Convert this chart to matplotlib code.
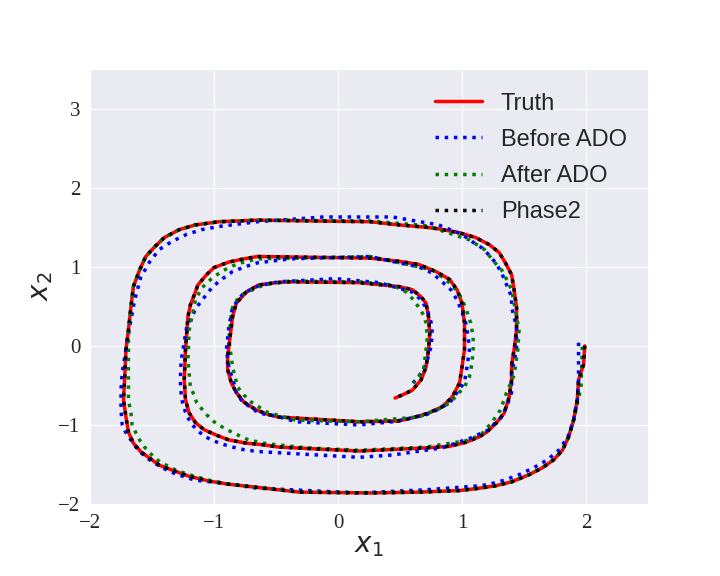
import matplotlib
matplotlib.use('Agg')
import matplotlib.pyplot as plt
import seaborn as sns

# Truth trajectory; Phase2 sits on top of it
truth_x = [1.99, 1.98, 1.94, 1.93, 1.90, 1.86, 1.81, 1.74, 1.65, 1.54, 1.40, 1.27, 1.14, 0.98, 0.65, 0.26,
           -0.31, -0.65, -0.88, -1.04, -1.20, -1.34, -1.44, -1.52, -1.59, -1.65, -1.69, -1.71, -1.73, -1.72,
           -1.71, -1.69, -1.67, -1.65, -1.60, -1.55, -1.48, -1.40, -1.28, -1.15, -0.96, -0.65, 0.26, 0.49,
           0.71, 0.81, 0.98, 1.11, 1.22, 1.30, 1.35, 1.40, 1.42, 1.44, 1.44, 1.42, 1.40, 1.40, 1.38, 1.34,
           1.28, 1.20, 1.14, 1.03, 0.90, 0.71, 0.17, -0.48, -0.61, -0.74, -0.88, -0.98, -1.08, -1.15, -1.20,
           -1.23, -1.24, -1.23, -1.21, -1.19, -1.16, -1.13, -1.06, -1.00, -0.88, -0.76, -0.65, 0.26, 0.49,
           0.65, 0.79, 0.90, 0.96, 1.00, 1.02, 1.02, 1.00, 0.98, 0.92, 0.84, 0.73, 0.60, 0.49, 0.17, -0.48,
           -0.56, -0.66, -0.76, -0.82, -0.86, -0.89, -0.89, -0.87, -0.85, -0.82, -0.74, -0.64, -0.50, -0.39,
           0.17, 0.49, 0.60, 0.67, 0.71, 0.73, 0.74, 0.73, 0.71, 0.67, 0.60, 0.52, 0.46]
truth_y = [0.00, -0.24, -0.43, -0.68, -0.94, -1.15, -1.32, -1.44, -1.54, -1.63, -1.72, -1.77, -1.80, -1.83,
           -1.85, -1.86, -1.85, -1.79, -1.75, -1.71, -1.65, -1.57, -1.51, -1.42, -1.34, -1.23, -1.09, -0.90,
           -0.68, -0.40, -0.05, 0.20, 0.49, 0.75, 0.96, 1.13, 1.25, 1.37, 1.47, 1.53, 1.57, 1.59, 1.57, 1.53,
           1.50, 1.48, 1.43, 1.37, 1.28, 1.18, 1.05, 0.90, 0.71, 0.49, 0.20, -0.05, -0.24, -0.43, -0.65,
           -0.85, -0.97, -1.09, -1.15, -1.22, -1.27, -1.29, -1.33, -1.28, -1.25, -1.23, -1.19, -1.13, -1.06,
           -0.97, -0.85, -0.68, -0.43, -0.05, 0.37, 0.52, 0.64, 0.77, 0.90, 0.99, 1.06, 1.10, 1.13, 1.11,
           1.07, 1.03, 0.94, 0.84, 0.71, 0.54, 0.29, -0.05, -0.27, -0.47, -0.65, -0.77, -0.85, -0.91, -0.95,
           -0.96, -0.90, -0.87, -0.81, -0.71, -0.59, -0.47, -0.30, -0.14, 0.11, 0.37, 0.54, 0.68, 0.77,
           0.80, 0.81, 0.80, 0.75, 0.71, 0.62, 0.54, 0.37, 0.16, -0.05, -0.27, -0.43, -0.56, -0.62, -0.66]

before_x = [1.94, 1.94, 1.94, 1.93, 1.90, 1.86, 1.82, 1.78, 1.69, 1.58, 1.46, 1.34, 1.22, 1.14, 0.71, 0.17,
            -0.65, -0.96, -1.15, -1.31, -1.42, -1.48, -1.54, -1.59, -1.63, -1.67, -1.71, -1.74, -1.75, -1.75,
            -1.74, -1.72, -1.68, -1.64, -1.59, -1.52, -1.44, -1.34, -1.22, -1.10, -0.96, -0.65, -0.12, 0.44,
            0.81, 1.00, 1.08, 1.16, 1.23, 1.28, 1.32, 1.36, 1.40, 1.40, 1.44, 1.44, 1.40, 1.40, 1.36, 1.32,
            1.27, 1.22, 1.16, 1.08, 0.84, 0.44, 0.17, -0.50, -0.61, -0.74, -0.85, -0.94, -1.02, -1.08, -1.14,
            -1.19, -1.23, -1.26, -1.27, -1.27, -1.26, -1.22, -1.14, -1.07, -1.01, -0.93, -0.85, -0.75, -0.65,
            -0.39, 0.26, 0.49, 0.65, 0.76, 0.84, 0.91, 0.96, 1.00, 1.03, 1.05, 1.06, 1.04, 1.02, 0.96, 0.90,
            0.80, 0.71, 0.60, 0.44, 0.17, -0.34, -0.49, -0.64, -0.70, -0.77, -0.82, -0.84, -0.88, -0.90,
            -0.88, -0.85, -0.76, -0.64, -0.48, -0.02, 0.33, 0.60, 0.67, 0.72, 0.75, 0.76, 0.75, 0.72, 0.69,
            0.64, 0.59]
before_y = [0.04, -0.20, -0.43, -0.68, -0.94, -1.13, -1.23, -1.32, -1.44, -1.54, -1.63, -1.70, -1.75, -1.77,
            -1.82, -1.86, -1.80, -1.73, -1.70, -1.62, -1.54, -1.48, -1.42, -1.35, -1.28, -1.19, -1.10, -1.00,
            -0.81, -0.55, -0.34, -0.14, 0.24, 0.58, 0.87, 1.06, 1.22, 1.32, 1.41, 1.47, 1.51, 1.57, 1.63,
            1.63, 1.53, 1.41, 1.32, 1.24, 1.13, 1.03, 0.92, 0.77, 0.62, 0.49, 0.24, -0.05, -0.34, -0.59,
            -0.77, -0.90, -0.97, -1.06, -1.10, -1.16, -1.29, -1.38, -1.41, -1.35, -1.34, -1.32, -1.28, -1.24,
            -1.19, -1.14, -1.06, -0.97, -0.84, -0.68, -0.52, -0.30, -0.14, 0.24, 0.49, 0.63, 0.75, 0.85, 0.94,
            1.00, 1.05, 1.10, 1.13, 1.05, 1.00, 0.92, 0.81, 0.71, 0.58, 0.43, 0.29, 0.11, -0.05, -0.27, -0.46,
            -0.59, -0.72, -0.81, -0.87, -0.91, -0.96, -1.00, -0.96, -0.89, -0.85, -0.78, -0.71, -0.59, -0.47,
            -0.27, -0.05, 0.24, 0.49, 0.67, 0.76, 0.81, 0.85, 0.80, 0.68, 0.58, 0.46, 0.30, 0.16, -0.01,
            -0.18, -0.30, -0.41, -0.49]

after_x = [1.97, 1.96, 1.90, 1.86, 1.81, 1.74, 1.65, 1.54, 1.40, 1.27, 1.14, 0.98, 0.65, 0.26, -0.31, -0.65,
           -0.88, -1.04, -1.20, -1.31, -1.36, -1.42, -1.47, -1.52, -1.56, -1.60, -1.63, -1.66, -1.67, -1.69,
           -1.69, -1.69, -1.67, -1.65, -1.60, -1.55, -1.48, -1.40, -1.28, -1.15, -0.96, -0.65, 0.26, 0.71,
           0.81, 1.06, 1.18, 1.26, 1.32, 1.36, 1.40, 1.42, 1.44, 1.46, 1.45, 1.42, 1.36, 1.31, 1.24, 1.15,
           1.03, 0.71, 0.17, -0.25, -0.50, -0.60, -0.72, -0.78, -0.84, -0.90, -0.96, -1.00, -1.06, -1.14,
           -1.16, -1.19, -1.21, -1.20, -1.15, -1.10, -1.02, -0.93, -0.81, -0.65, 0.26, 0.65, 0.76, 0.87,
           0.94, 0.99, 1.03, 1.07, 1.09, 1.09, 1.08, 1.06, 1.02, 0.96, 0.91, 0.84, 0.73, 0.65, 0.17, -0.34,
           -0.50, -0.57, -0.64, -0.70, -0.76, -0.81, -0.85, -0.88, -0.86, -0.84, -0.76, -0.60, -0.39, 0.17,
           0.44, 0.55, 0.61, 0.65, 0.69, 0.71, 0.72, 0.71, 0.70, 0.69, 0.65, 0.61]
after_y = [-0.01, -0.52, -0.94, -1.15, -1.32, -1.44, -1.54, -1.63, -1.72, -1.77, -1.80, -1.83, -1.85, -1.86,
           -1.85, -1.79, -1.75, -1.70, -1.63, -1.57, -1.53, -1.48, -1.43, -1.35, -1.28, -1.19, -1.10, -1.00,
           -0.85, -0.68, -0.27, 0.20, 0.49, 0.75, 0.96, 1.13, 1.25, 1.37, 1.47, 1.53, 1.57, 1.59, 1.58, 1.52,
           1.47, 1.34, 1.22, 1.06, 0.96, 0.84, 0.71, 0.54, 0.37, 0.20, -0.05, -0.37, -0.59, -0.81, -0.97,
           -1.13, -1.20, -1.28, -1.32, -1.29, -1.25, -1.23, -1.19, -1.15, -1.10, -1.06, -1.00, -0.96, -0.87,
           -0.72, -0.62, -0.53, -0.18, 0.20, 0.58, 0.73, 0.85, 0.95, 1.04, 1.10, 1.13, 1.00, 0.96, 0.84,
           0.73, 0.62, 0.48, 0.29, 0.11, -0.05, -0.22, -0.39, -0.52, -0.62, -0.71, -0.78, -0.85, -0.90,
           -0.96, -0.94, -0.87, -0.84, -0.77, -0.71, -0.62, -0.52, -0.27, 0.08, 0.42, 0.54, 0.66, 0.77,
           0.82, 0.81, 0.77, 0.68, 0.58, 0.49, 0.39, 0.29, 0.11, -0.05, -0.18, -0.30, -0.39, -0.47]

phase2_x = truth_x
phase2_y = truth_y

sns.set_style('darkgrid')
plt.rcParams['font.family'] = ['Liberation Sans', 'DejaVu Sans']

fig, ax = plt.subplots(figsize=(7.2, 5.76), dpi=100)
fig.subplots_adjust(left=0.125, right=0.9, top=0.88, bottom=0.125)

ax.plot(truth_x, truth_y, color='red', linewidth=2.5, label='Truth')
ax.plot(before_x, before_y, color='blue', linestyle=':', linewidth=2.5, label='Before ADO')
ax.plot(after_x, after_y, color='green', linestyle=':', linewidth=2.5, label='After ADO')
ax.plot(phase2_x, phase2_y, color='black', linestyle=':', linewidth=2.5, label='Phase2')

ax.set_xlim(-2, 2.5)
ax.set_ylim(-2, 3.5)
ax.set_xticks([-2, -1, 0, 1, 2])
ax.set_yticks([-2, -1, 0, 1, 2, 3])
for lab in ax.get_xticklabels() + ax.get_yticklabels():
    lab.set_family('Liberation Serif')
    lab.set_fontsize(15)
ax.set_xlabel('$x_1$', fontsize=20, labelpad=0)
ax.set_ylabel('$x_2$', fontsize=20, labelpad=2)

ax.legend(loc='upper right', fontsize=17, frameon=False, labelspacing=0.6,
          bbox_to_anchor=(1.0, 0.995))

fig.savefig('out.png')
